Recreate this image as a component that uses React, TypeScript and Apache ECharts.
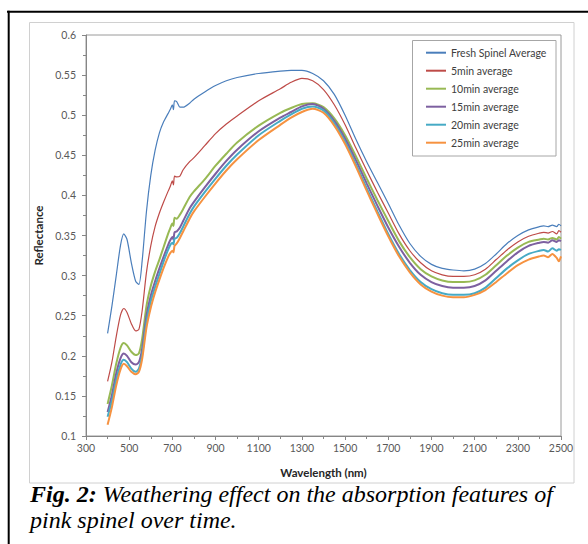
import React, { useEffect, useRef } from "react";
import * as echarts from "echarts";

const wavelengths = [400, 420, 440, 460, 475, 490, 510, 530, 545, 560, 580, 600, 620, 640, 660, 680, 690, 700, 705, 710, 720, 735, 750, 780, 800, 850, 900, 950, 1000, 1100, 1200, 1250, 1300, 1350, 1400, 1450, 1500, 1550, 1600, 1650, 1700, 1750, 1800, 1850, 1900, 1950, 2000, 2050, 2100, 2150, 2200, 2250, 2300, 2350, 2400, 2420, 2440, 2460, 2480, 2490, 2500];

const freshSpinel = [0.228, 0.262, 0.300, 0.338, 0.352, 0.345, 0.316, 0.293, 0.289, 0.318, 0.380, 0.425, 0.456, 0.478, 0.492, 0.502, 0.507, 0.513, 0.507, 0.518, 0.517, 0.510, 0.510, 0.515, 0.520, 0.529, 0.537, 0.543, 0.547, 0.552, 0.555, 0.556, 0.556, 0.552, 0.543, 0.526, 0.500, 0.470, 0.442, 0.416, 0.390, 0.363, 0.340, 0.324, 0.314, 0.309, 0.307, 0.306, 0.308, 0.315, 0.327, 0.340, 0.350, 0.357, 0.361, 0.362, 0.361, 0.363, 0.361, 0.364, 0.362];
const min5 = [0.168, 0.192, 0.224, 0.251, 0.259, 0.254, 0.240, 0.231, 0.233, 0.256, 0.304, 0.337, 0.361, 0.378, 0.392, 0.405, 0.411, 0.418, 0.413, 0.424, 0.423, 0.424, 0.432, 0.442, 0.447, 0.462, 0.477, 0.489, 0.499, 0.518, 0.533, 0.541, 0.546, 0.543, 0.532, 0.513, 0.488, 0.459, 0.431, 0.404, 0.378, 0.352, 0.331, 0.316, 0.306, 0.301, 0.299, 0.299, 0.301, 0.308, 0.320, 0.332, 0.342, 0.349, 0.353, 0.354, 0.353, 0.355, 0.352, 0.356, 0.354];
const min10 = [0.140, 0.163, 0.190, 0.210, 0.216, 0.213, 0.205, 0.201, 0.203, 0.221, 0.262, 0.287, 0.305, 0.320, 0.336, 0.352, 0.359, 0.365, 0.362, 0.372, 0.371, 0.376, 0.383, 0.398, 0.405, 0.420, 0.437, 0.452, 0.466, 0.487, 0.503, 0.509, 0.514, 0.515, 0.510, 0.496, 0.475, 0.449, 0.421, 0.394, 0.368, 0.343, 0.323, 0.308, 0.299, 0.294, 0.292, 0.292, 0.294, 0.301, 0.313, 0.325, 0.335, 0.342, 0.345, 0.346, 0.345, 0.347, 0.345, 0.348, 0.346];
const min15 = [0.130, 0.151, 0.178, 0.197, 0.203, 0.200, 0.192, 0.189, 0.192, 0.209, 0.250, 0.275, 0.293, 0.309, 0.324, 0.338, 0.344, 0.348, 0.345, 0.354, 0.355, 0.360, 0.368, 0.384, 0.392, 0.410, 0.427, 0.443, 0.457, 0.480, 0.497, 0.504, 0.511, 0.514, 0.508, 0.493, 0.471, 0.444, 0.415, 0.387, 0.360, 0.336, 0.316, 0.301, 0.292, 0.287, 0.285, 0.285, 0.287, 0.294, 0.306, 0.318, 0.329, 0.337, 0.341, 0.342, 0.341, 0.344, 0.342, 0.344, 0.343];
const min20 = [0.124, 0.144, 0.170, 0.189, 0.195, 0.192, 0.184, 0.180, 0.184, 0.201, 0.242, 0.268, 0.286, 0.302, 0.318, 0.332, 0.338, 0.341, 0.339, 0.346, 0.347, 0.353, 0.361, 0.377, 0.386, 0.404, 0.421, 0.437, 0.451, 0.475, 0.493, 0.501, 0.508, 0.511, 0.506, 0.490, 0.467, 0.439, 0.409, 0.380, 0.352, 0.327, 0.307, 0.292, 0.283, 0.278, 0.276, 0.276, 0.278, 0.285, 0.297, 0.309, 0.319, 0.327, 0.331, 0.332, 0.330, 0.334, 0.331, 0.333, 0.332];
const min25 = [0.114, 0.136, 0.163, 0.183, 0.190, 0.187, 0.180, 0.177, 0.180, 0.196, 0.235, 0.260, 0.279, 0.295, 0.310, 0.323, 0.328, 0.331, 0.329, 0.337, 0.340, 0.347, 0.355, 0.371, 0.380, 0.398, 0.415, 0.431, 0.445, 0.469, 0.488, 0.497, 0.504, 0.508, 0.503, 0.487, 0.464, 0.436, 0.406, 0.377, 0.349, 0.324, 0.304, 0.289, 0.280, 0.275, 0.273, 0.273, 0.276, 0.282, 0.292, 0.303, 0.313, 0.320, 0.324, 0.325, 0.323, 0.327, 0.322, 0.318, 0.324];

const seriesNames = ["Fresh Spinel Average", "5min average", "10min average", "15min average", "20min average", "25min average"];
const seriesValues = [freshSpinel, min5, min10, min15, min20, min25];
const seriesColors = ["#4A7EBB", "#BE4B48", "#98B954", "#7D60A0", "#46AAC5", "#F69240"];
const seriesWidths = [1.2, 1.2, 2, 2, 2, 2];

const xTitle = "Wavelength (nm)";
const yTitle = "Reflectance";
const captionBold = "Fig. 2:";
const captionLine1 = " Weathering effect on the absorption features of";
const captionLine2 = "pink spinel over time.";

const LABEL_FONT = "Lato, 'Open Sans', sans-serif";
const SERIF = "'Liberation Serif', 'DejaVu Serif', serif";

export default function App() {
  const ref = useRef<HTMLDivElement>(null);
  useEffect(() => {
    if (!ref.current) return;
    const chart = echarts.init(ref.current, undefined, { renderer: "svg" });
    chart.setOption({
      animation: false,
      backgroundColor: "#ffffff",
      grid: {
        left: 86,
        top: 35,
        right: 27,
        bottom: 108,
        show: true,
        borderColor: "#9a9a9a",
        borderWidth: 1,
        backgroundColor: "transparent",
      },
      xAxis: {
        type: "value",
        min: 300,
        max: 2500,
        interval: 200,
        name: xTitle,
        nameLocation: "middle",
        nameGap: 30,
        nameTextStyle: { fontFamily: LABEL_FONT, fontWeight: "bold", fontSize: 11.5, color: "#262626" },
        axisLine: { show: true, lineStyle: { color: "#868686", width: 1 } },
        axisTick: { show: true, length: 4, lineStyle: { color: "#868686" } },
        minorTick: { show: true, splitNumber: 2, length: 3, lineStyle: { color: "#868686" } },
        splitLine: { show: false },
        axisLabel: {
          fontFamily: LABEL_FONT,
          fontSize: 10.5,
          color: "#595959",
          margin: 6,
          formatter: (v: number) => String(v),
        },
      },
      yAxis: {
        type: "value",
        min: 0.1,
        max: 0.6,
        interval: 0.05,
        name: yTitle,
        nameLocation: "middle",
        nameGap: 42,
        nameTextStyle: { fontFamily: LABEL_FONT, fontWeight: "bold", fontSize: 11.5, color: "#262626" },
        axisLine: { show: true, lineStyle: { color: "#868686", width: 1 } },
        axisTick: { show: true, length: 4, lineStyle: { color: "#868686" } },
        minorTick: { show: true, splitNumber: 2, length: 3, lineStyle: { color: "#868686" } },
        splitLine: { show: false },
        axisLabel: {
          fontFamily: LABEL_FONT,
          fontSize: 10.5,
          color: "#595959",
          margin: 10,
          formatter: (v: number) => String(Number(v.toFixed(2))),
        },
      },
      legend: {
        orient: "vertical",
        left: 426,
        top: 43.7,
        icon: "rect",
        itemWidth: 20,
        itemHeight: 2,
        itemGap: 0,
        padding: 0,
        data: seriesNames,
        textStyle: { fontFamily: LABEL_FONT, fontSize: 10.5, color: "#404040", lineHeight: 18 },
      },
      graphic: [
        { type: "line", shape: { x1: 7, y1: 11.7, x2: 588, y2: 11.7 }, style: { stroke: "#000", lineWidth: 2 }, z: 10 },
        { type: "line", shape: { x1: 8.7, y1: 10.7, x2: 8.7, y2: 544 }, style: { stroke: "#000", lineWidth: 2 }, z: 10 },
        { type: "rect", shape: { x: 29.5, y: 22.5, width: 544.5, height: 460.5 }, style: { fill: "none", stroke: "#d0d0d0", lineWidth: 1 }, z: 0, silent: true },
        { type: "rect", shape: { x: 412.5, y: 40.5, width: 143.5, height: 115.5 }, style: { fill: "#ffffff", stroke: "#a6a6a6", lineWidth: 1 }, z: 0, silent: true },
        {
          type: "text",
          x: 30,
          y: 494,
          style: {
            text: "{b|" + captionBold + "}" + captionLine1,
            font: "italic 24px " + SERIF,
            fill: "#000",
            verticalAlign: "middle",
            rich: { b: { fontWeight: "bold", fontStyle: "italic", fontSize: 24, fontFamily: SERIF, fill: "#000" } },
          },
        },
        {
          type: "text",
          x: 30,
          y: 519.5,
          style: { text: captionLine2, font: "italic 24px " + SERIF, fill: "#000", verticalAlign: "middle" },
        },
      ],
      series: seriesNames.map((name, i) => ({
        name,
        type: "line",
        data: wavelengths.map((w, j) => [w, seriesValues[i][j]]),
        symbol: "none",
        showSymbol: false,
        smooth: 0.25,
        color: seriesColors[i],
        lineStyle: { color: seriesColors[i], width: seriesWidths[i] },
        z: 2 + i,
      })),
    });
    return () => chart.dispose();
  }, []);
  return <div ref={ref} style={{ position: "absolute", left: 0, top: 0, width: 588, height: 544, background: "#fff" }} />;
}
